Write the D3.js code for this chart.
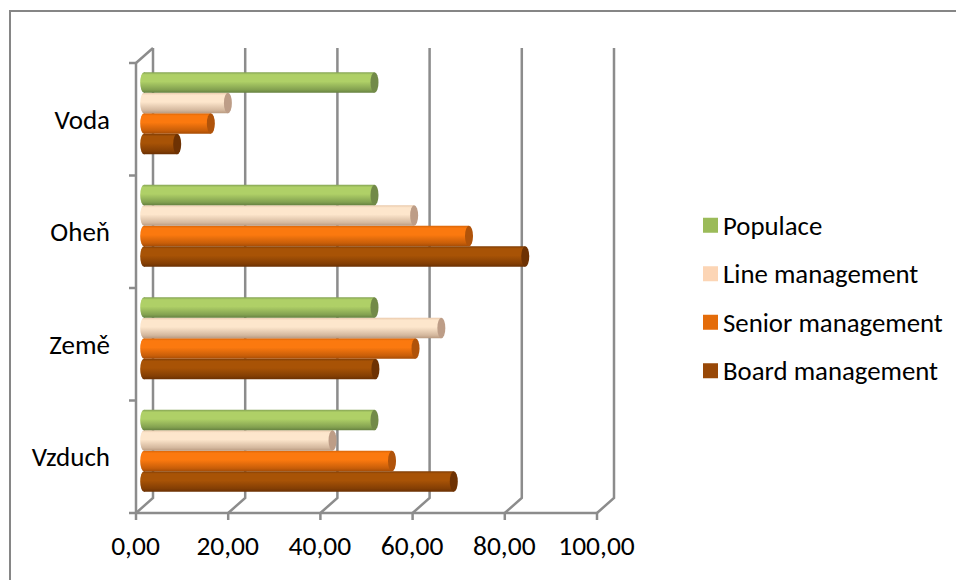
<!DOCTYPE html>
<html>
<head>
<meta charset="utf-8">
<script src="https://cdn.jsdelivr.net/npm/d3@7"></script>
<style>
html, body { margin: 0; padding: 0; background: #fff; }
text { font-family: Carlito, Lato, "Open Sans", sans-serif; fill: #000; }
</style>
</head>
<body>
<svg id="chart" width="956" height="580"></svg>
<script>
const categories = ["Vzduch", "Země", "Oheň", "Voda"];
const seriesNames = ["Board management", "Senior management", "Line management", "Populace"];
const boardValues = [67.2, 50.2, 82.7, 7.2];
const seniorValues = [53.8, 58.9, 70.5, 14.5];
const lineValues = [40.9, 64.5, 58.6, 18.2];
const populaceValues = [50.0, 50.0, 50.0, 50.0];
const xTicks = [0, 20, 40, 60, 80, 100];
const legendOrder = ["Populace", "Line management", "Senior management", "Board management"];

const seriesValues = [boardValues, seniorValues, lineValues, populaceValues];

const palette = {
  "Board management": { top: "#7d3c05", mid: "#a85306", low: "#6a3003", cap: "#6e3203", key: "#984807" },
  "Senior management": { top: "#d96507", mid: "#fb790f", low: "#a64c05", cap: "#b0530a", key: "#e46c0a" },
  "Line management": { top: "#e9c9ab", mid: "#fde6cc", low: "#b99a80", cap: "#bd9d87", key: "#fcd5b5" },
  "Populace": { top: "#84a354", mid: "#afd067", low: "#668140", cap: "#728a48", key: "#9bbb59" }
};

const gridColor = "#8c8c8c";
const depthX = 17, depthY = -15;
const svg = d3.select("#chart");

const x = d3.scaleLinear().domain([0, 100]).range([136, 597]);
const y = d3.scaleBand().domain(categories).range([513, 63]);
const inner = d3.scaleBand().domain(seriesNames).range([0, 82]);

// Vertical shading that gives each bar its cylinder look
const defs = svg.append("defs");
seriesNames.forEach((name, i) => {
  const g = defs.append("linearGradient")
    .attr("id", "cyl" + i).attr("x1", 0).attr("y1", 0).attr("x2", 0).attr("y2", 1);
  const c = palette[name];
  [[0, c.top], [0.12, c.mid], [0.45, c.mid], [0.85, d3.interpolateRgb(c.mid, c.low)(0.6)], [1, c.low]]
    .forEach(([o, col]) => g.append("stop").attr("offset", o).attr("stop-color", col));
});

// Chart frame
svg.append("rect")
  .attr("x", 10).attr("y", 11).attr("width", 960).attr("height", 600)
  .attr("fill", "#fff").attr("stroke", "#868686").attr("stroke-width", 2);

// Floor, side wall and back wall gridlines
const walls = svg.append("g").attr("fill", "none").attr("stroke", gridColor).attr("stroke-width", 2.5);
xTicks.forEach(t => {
  const px = x(t);
  walls.append("path").attr("d", d3.line()([
    [px, 513], [px + depthX, 513 + depthY], [px + depthX, 63 + depthY]
  ]));
  walls.append("line").attr("x1", px).attr("x2", px).attr("y1", 513).attr("y2", 520);
});
walls.append("line").attr("x1", x(0)).attr("x2", x(100)).attr("y1", 513).attr("y2", 513);
walls.append("line").attr("x1", 136).attr("x2", 136).attr("y1", 63).attr("y2", 513);
walls.append("line").attr("x1", 136).attr("x2", 136 + depthX).attr("y1", 63).attr("y2", 63 + depthY);
d3.range(categories.length + 1).forEach(i => {
  const py = 513 - y.step() * i;
  walls.append("line").attr("x1", 129).attr("x2", 136).attr("y1", py).attr("y2", py);
});

// Category labels
svg.append("g").selectAll("text").data(categories).join("text")
  .attr("x", 110)
  .attr("y", d => y(d) + y.bandwidth() / 2)
  .attr("dy", "0.36em")
  .attr("text-anchor", "end")
  .attr("font-size", 27)
  .text(d => d);

// Value labels
svg.append("g").selectAll("text").data(xTicks).join("text")
  .attr("x", d => x(d) - 0.5)
  .attr("y", 555)
  .attr("text-anchor", "middle")
  .attr("font-size", 27.5)
  .text(d => d3.format(".2f")(d).replace(".", ","));

// Bars, from the bottom of each cluster upward
const bars = svg.append("g");
const barLeft = x(0) + 8;
const leftRx = 3.8, capRx = 4;
categories.forEach((cat, ci) => {
  const clusterTop = y(cat) + (y.bandwidth() - 82) / 2 + depthY / 2 + 1.5;
  seriesNames.forEach((name, si) => {
    const slotTop = clusterTop + 82 - inner.step() * (si + 1);
    const h = inner.bandwidth();
    const right = barLeft + (x(seriesValues[si][ci]) - x(0));
    const g = bars.append("g");
    g.append("rect")
      .attr("x", barLeft).attr("y", slotTop)
      .attr("width", right - barLeft).attr("height", h)
      .attr("fill", `url(#cyl${si})`);
    g.append("ellipse")
      .attr("cx", barLeft).attr("cy", slotTop + h / 2)
      .attr("rx", leftRx).attr("ry", h / 2)
      .attr("fill", `url(#cyl${si})`);
    g.append("ellipse")
      .attr("cx", right).attr("cy", slotTop + h / 2)
      .attr("rx", capRx).attr("ry", h / 2)
      .attr("fill", palette[name].cap);
  });
});

// Legend
const legendRow = d3.scaleBand().domain(legendOrder).range([201, 395]);
const legend = svg.append("g").selectAll("g").data(legendOrder).join("g")
  .attr("transform", d => `translate(703,${legendRow(d) + legendRow.bandwidth() / 2})`);
legend.append("rect")
  .attr("y", -7.5).attr("width", 15).attr("height", 15)
  .attr("fill", d => palette[d].key);
legend.append("text")
  .attr("x", 20).attr("dy", "0.36em")
  .attr("font-size", 26.8)
  .text(d => d);
</script>
</body>
</html>
